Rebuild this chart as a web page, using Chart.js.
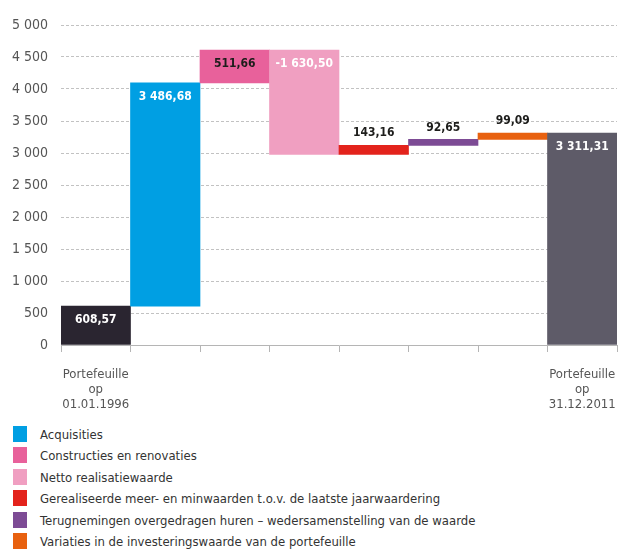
<!DOCTYPE html>
<html>
<head>
<meta charset="utf-8">
<script src="https://cdn.jsdelivr.net/npm/chart.js@4/dist/chart.umd.min.js"></script>
<style>
  html, body { margin: 0; padding: 0; background: #fff; }
  body { width: 619px; height: 549px; position: relative; overflow: hidden;
         font-family: 'DejaVu Sans Condensed', 'Liberation Sans Narrow', sans-serif; }
  #wrap { position: absolute; left: 0; top: 0; width: 619px; height: 415px; }
  #legend { position: absolute; left: 13px; top: 426px; }
  .row { height: 21.4px; display: flex; align-items: flex-start; }
  .sw { width: 14px; height: 16px; margin-right: 13px; flex: none; }
  .lbl { font-size: 13px; line-height: 17px; color: #333; }
</style>
</head>
<body>
<div id="wrap"><canvas id="chart" width="619" height="415"></canvas></div>
<div id="legend"></div>
<script>
// waterfall data (values in the units of the y axis)
const categories = [
  ["Portefeuille", "op", "01.01.1996"], "", "", "", "", "", "",
  ["Portefeuille", "op", "31.12.2011"]
];
const steps = [608.57, 3486.68, 511.66, -1630.50, 143.16, 92.65, 99.09, 3311.31];
const isTotal = [true, false, false, false, false, false, false, true];
const barColors = ["#2a2530", "#009fe3", "#e8619b", "#f09fc1", "#e3231c", "#7d4b95", "#e8610f", "#5e5b68"];
const labelColors = ["#fff", "#fff", "#1d1d1b", "#fff", "#1d1d1b", "#1d1d1b", "#1d1d1b", "#fff"];
const labelInside = [true, true, true, true, false, false, false, true];

const legendNames = [
  "Acquisities",
  "Constructies en renovaties",
  "Netto realisatiewaarde",
  "Gerealiseerde meer- en minwaarden t.o.v. de laatste jaarwaardering",
  "Terugnemingen overgedragen huren \u2013 wedersamenstelling van de waarde",
  "Variaties in de investeringswaarde van de portefeuille"
];
const legendColors = ["#009fe3", "#e8619b", "#f09fc1", "#e3231c", "#7d4b95", "#e8610f"];

const Y_MIN = 0, Y_MAX = 5000, Y_STEP = 500;

const FONT = "'DejaVu Sans Condensed', 'Liberation Sans Narrow', sans-serif";

// format like 3 486,68
const fmt = (v, dec) => {
  const s = Math.abs(v).toFixed(dec);
  let [i, d] = s.split(".");
  i = i.replace(/\B(?=(\d{3})+(?!\d))/g, " ");
  return (v < 0 ? "-" : "") + i + (d ? "," + d : "");
};

// floating ranges
const ranges = [];
let running = 0;
steps.forEach((v, i) => {
  if (isTotal[i]) {
    ranges.push([0, v]);
    running = v;
  } else {
    ranges.push([running, running + v]);
    running += v;
  }
});

const barLabels = {
  id: "barLabels",
  afterDatasetsDraw(chart) {
    const ctx = chart.ctx;
    const meta = chart.getDatasetMeta(0);
    ctx.save();
    ctx.font = "bold 12px " + FONT;
    ctx.textAlign = "center";
    ctx.textBaseline = "middle";
    meta.data.forEach((bar, i) => {
      const top = Math.min(bar.y, bar.base);
      const y = labelInside[i] ? top + 14 : top - 12;
      ctx.fillStyle = labelColors[i];
      ctx.fillText(fmt(steps[i], 2), bar.x, y);
    });
    ctx.restore();
  }
};

new Chart(document.getElementById("chart"), {
  type: "bar",
  data: {
    labels: categories,
    datasets: [{
      data: ranges,
      backgroundColor: barColors,
      borderWidth: 0,
      barPercentage: 1,
      categoryPercentage: 1
    }]
  },
  options: {
    responsive: false,
    animation: false,
    layout: { padding: { top: 25, right: 2, bottom: 3, left: 0 } },
    plugins: {
      legend: { display: false },
      tooltip: { enabled: false }
    },
    scales: {
      x: {
        offset: true,
        afterFit: (scale) => {
          scale.paddingLeft = 0;
          scale.paddingRight = 0;
          scale.height = 67;
        },
        grid: { offset: true, drawOnChartArea: false, drawTicks: true, tickLength: 7, color: "#b5b5b5" },
        border: { display: true, color: "#b5b5b5", width: 1 },
        ticks: {
          autoSkip: false, maxRotation: 0, minRotation: 0, padding: 15,
          color: "#555", font: { family: FONT, size: 13, lineHeight: 1.15 }
        }
      },
      y: {
        min: Y_MIN, max: Y_MAX,
        afterFit: (scale) => { scale.width = 61; },
        grid: { drawTicks: false, color: "#c2c2c2" },
        border: { display: false, dash: [3, 2] },
        ticks: {
          stepSize: Y_STEP, padding: 13, color: "#555",
          font: { family: FONT, size: 14 },
          callback: (v) => fmt(v, 0)
        }
      }
    }
  },
  plugins: [barLabels]
});

// legend
const legendEl = document.getElementById("legend");
legendNames.forEach((name, i) => {
  const row = document.createElement("div");
  row.className = "row";
  row.innerHTML = '<div class="sw" style="background:' + legendColors[i] + '"></div><div class="lbl">' + name + '</div>';
  legendEl.appendChild(row);
});
</script>
</body>
</html>
